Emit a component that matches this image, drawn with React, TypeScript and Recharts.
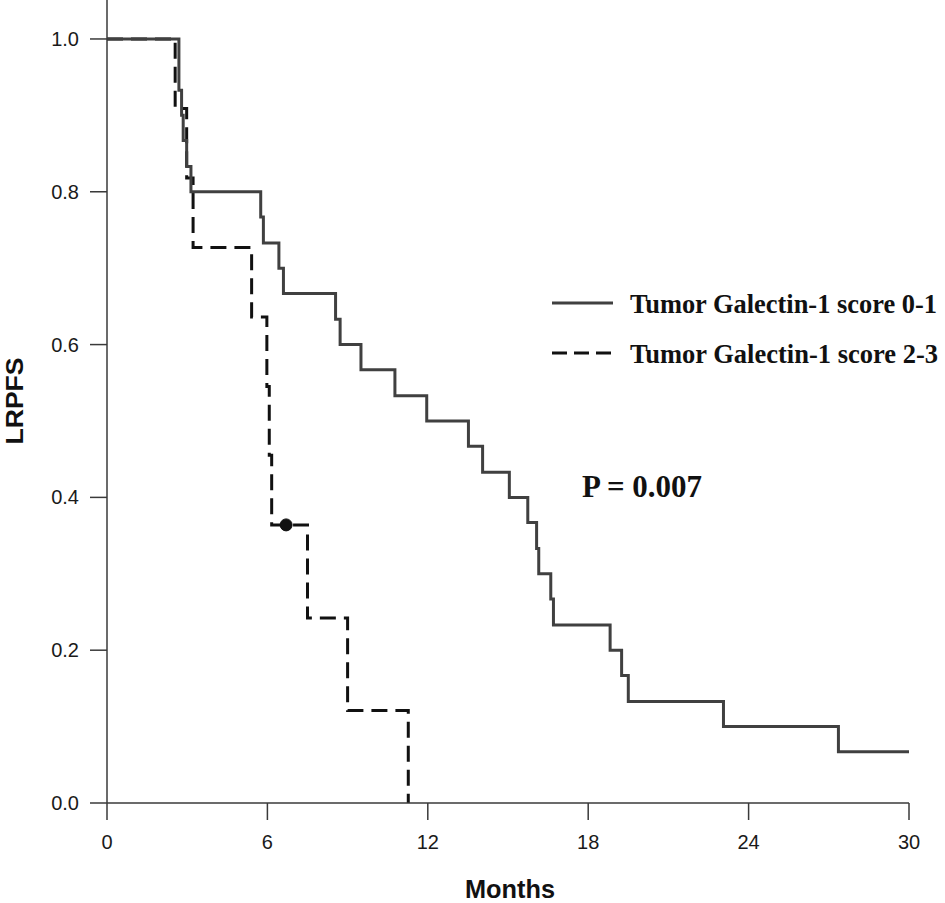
import { LineChart, Line, XAxis, YAxis, ReferenceDot, Customized } from 'recharts';

// Tumor Galectin-1 score 0-1 (solid)
const LOW_MONTHS = [0, 2.69, 2.79, 2.85, 2.98, 3.14, 5.75, 5.85, 6.43, 6.6, 8.55, 8.72, 9.5, 10.77, 11.96, 13.52, 14.05, 15.05, 15.74, 16.07, 16.15, 16.6, 16.7, 18.82, 19.25, 19.5, 23.06, 27.36, 30];
const LOW_SURV = [1.0, 0.933, 0.9, 0.867, 0.833, 0.8, 0.767, 0.733, 0.7, 0.667, 0.633, 0.6, 0.567, 0.533, 0.5, 0.467, 0.433, 0.4, 0.367, 0.333, 0.3, 0.267, 0.233, 0.2, 0.167, 0.133, 0.1, 0.067, 0.067];

// Tumor Galectin-1 score 2-3 (dashed)
const HIGH_MONTHS = [0, 2.55, 2.98, 3.22, 5.41, 5.98, 6.07, 6.16, 7.5, 9.0, 11.27];
const HIGH_SURV = [1.0, 0.909, 0.818, 0.727, 0.636, 0.545, 0.455, 0.364, 0.242, 0.121, 0];

// censored observation
const CENSOR_MONTHS = [6.7];
const CENSOR_SURV = [0.364];

const X_TICKS = [0, 6, 12, 18, 24, 30];
const Y_TICKS = [0, 0.2, 0.4, 0.6, 0.8, 1.0];

const lowData = LOW_MONTHS.map((t, i) => ({ t, s: LOW_SURV[i] }));
const highData = HIGH_MONTHS.map((t, i) => ({ t, s: HIGH_SURV[i] }));

const AXIS = '#3a3a3a';
const tickStyle = { fill: '#1a1a1a', fontSize: 20, fontFamily: 'Liberation Sans, Arial, sans-serif' };
const serif = 'Liberation Serif, Times New Roman, serif';
const sans = 'Liberation Sans, Arial, sans-serif';

function Annotations() {
  return (
    <g>
      <line x1={552} y1={303} x2={613} y2={303} stroke="#404040" strokeWidth={3} />
      <text x={630} y={313} fontFamily={serif} fontWeight="bold" fontSize={26.5} fill="#111"
        textLength={307} lengthAdjust="spacingAndGlyphs">
        Tumor Galectin-1 score 0-1
      </text>
      <line x1={552} y1={353} x2={613} y2={353} stroke="#111" strokeWidth={3} strokeDasharray="15 7" />
      <text x={630} y={363} fontFamily={serif} fontWeight="bold" fontSize={26.5} fill="#111"
        textLength={308} lengthAdjust="spacingAndGlyphs">
        Tumor Galectin-1 score 2-3
      </text>
      <text x={582} y={497} fontFamily={serif} fontWeight="bold" fontSize={31} fill="#111"
        textLength={120} lengthAdjust="spacingAndGlyphs">
        P = 0.007
      </text>
      <text x={510} y={898} textAnchor="middle" fontFamily={sans} fontWeight="bold" fontSize={26}
        textLength={90} lengthAdjust="spacingAndGlyphs" fill="#111">
        Months
      </text>
      <text x={23} y={401} textAnchor="middle" transform="rotate(-90, 23, 401)" fontFamily={sans}
        fontWeight="bold" fontSize={23} textLength={87} lengthAdjust="spacingAndGlyphs" fill="#111">
        LRPFS
      </text>
    </g>
  );
}

export default function App() {
  return (
    <div style={{ position: 'absolute', left: 0, top: 0, background: '#fff' }}>
      <LineChart width={945} height={903} margin={{ top: 0, right: 36, bottom: 0, left: 0 }}>
        <XAxis
          type="number"
          dataKey="t"
          domain={[0, 30]}
          ticks={X_TICKS}
          allowDataOverflow
          height={100}
          tickSize={17}
          tickMargin={15}
          tick={tickStyle}
          axisLine={{ stroke: AXIS, strokeWidth: 1.5 }}
          tickLine={{ stroke: AXIS, strokeWidth: 1.5 }}
        />
        <YAxis
          type="number"
          dataKey="s"
          domain={[0, 1.051]}
          ticks={Y_TICKS}
          allowDataOverflow
          width={107}
          tickSize={17}
          tickMargin={11}
          tick={tickStyle}
          tickFormatter={(v: number) => v.toFixed(1)}
          axisLine={{ stroke: AXIS, strokeWidth: 1.5 }}
          tickLine={{ stroke: AXIS, strokeWidth: 1.5 }}
        />
        <Line
          data={highData}
          dataKey="s"
          type="stepAfter"
          stroke="#111"
          strokeWidth={3}
          strokeDasharray="16 8"
          dot={false}
          isAnimationActive={false}
        />
        <Line
          data={lowData}
          dataKey="s"
          type="stepAfter"
          stroke="#404040"
          strokeWidth={3}
          dot={false}
          isAnimationActive={false}
        />
        {CENSOR_MONTHS.map((t, i) => (
          <ReferenceDot key={t} x={t} y={CENSOR_SURV[i]} r={6} fill="#111" stroke="#111" />
        ))}
        <Customized component={Annotations} />
      </LineChart>
    </div>
  );
}
